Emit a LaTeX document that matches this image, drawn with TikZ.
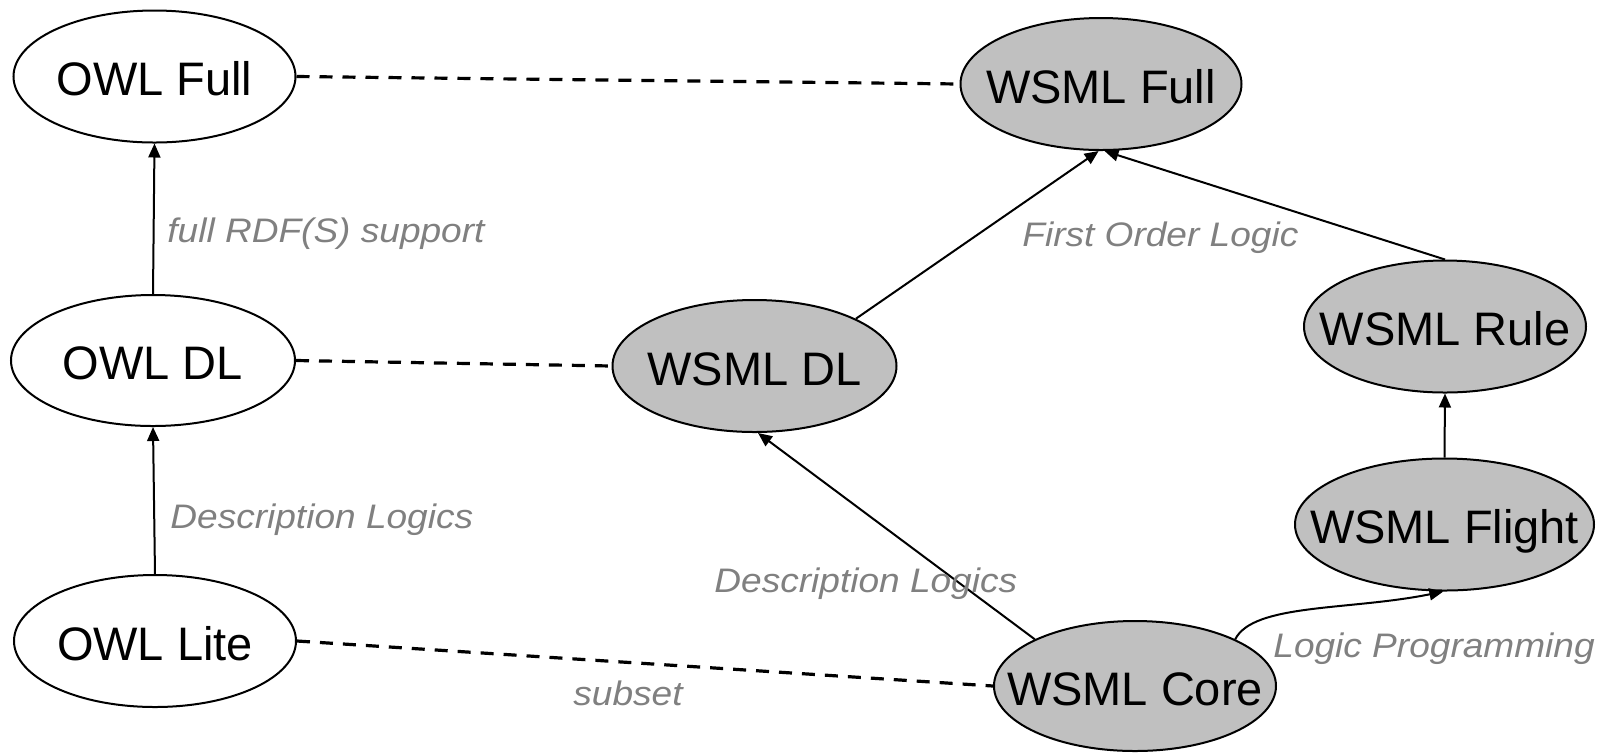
\documentclass[tikz,border=0pt]{standalone}
\usepackage{fontspec}
\setmainfont{Liberation Sans}
\newfontfamily\lblfont{Liberation Sans}[FakeStretch=1.09]
\usetikzlibrary{shapes.geometric, arrows.meta}
\definecolor{nodegray}{RGB}{192,192,192}
\definecolor{lblgray}{RGB}{128,128,128}

\begin{document}
\begin{tikzpicture}[x=0.5pt, y=-0.5pt,
  lang/.style={ellipse, draw=black, line width=1pt, inner sep=0pt,
    font=\fontsize{23.5}{28}\selectfont, text height=19pt, text depth=0pt},
  owl/.style={lang, fill=white},
  wsml/.style={lang, fill=nodegray},
  lbl/.style={font=\lblfont\itshape\fontsize{17}{20}\selectfont, text=lblgray,
    inner sep=0pt, anchor=base west},
  rel/.style={-{Triangle[length=7pt,width=6pt]}, line width=1pt},
  same/.style={dash pattern=on 6.5pt off 5pt, line width=1.6pt}
]
% canvas
\fill[white] (0,0) rectangle (1603,752);
\useasboundingbox (0,0) rectangle (1603,752);

% OWL species
\node[owl, minimum width=141pt, minimum height=66pt] (owlfull) at (154.5,76.5) {\makebox[0pt]{OWL Full}};
\node[owl, minimum width=142pt, minimum height=65.5pt] (owldl) at (153,360.5) {\makebox[0pt]{OWL DL}};
\node[owl, minimum width=141pt, minimum height=66pt] (owllite) at (155,641) {\makebox[0pt]{OWL Lite}};

% WSML variants
\node[wsml, minimum width=140.5pt, minimum height=66pt] (wsmlfull) at (1101,84) {\makebox[0pt]{WSML Full}};
\node[wsml, minimum width=142pt, minimum height=66pt] (wsmldl) at (754.5,366) {\makebox[0pt]{WSML DL}};
\node[wsml, minimum width=141pt, minimum height=66pt] (wsmlrule) at (1445,326.5) {\makebox[0pt]{WSML Rule}};
\node[wsml, minimum width=149.5pt, minimum height=66pt] (wsmlflight) at (1444.5,524.5) {\makebox[0pt]{WSML Flight}};
\node[wsml, minimum width=141pt, minimum height=65pt] (wsmlcore) at (1135,686) {\makebox[0pt]{WSML Core}};

% correspondences
\draw[same] (owlfull.east) -- (wsmlfull.west);
\draw[same] (owldl.east) -- (wsmldl.west);
\draw[same] (owllite.east) -- (wsmlcore.west);

% extensions
\draw[rel] (owldl.north) -- (owlfull.south);
\draw[rel] (owllite.north) -- (owldl.south);
\draw[rel] (wsmldl.25) -- (wsmlfull.-92);
\draw[rel] (wsmlrule.north) -- (wsmlfull.-87);
\draw[rel] (wsmlflight.north) -- (wsmlrule.south);
\draw[rel] (wsmlcore.155) -- (wsmldl.-87);
\draw[rel] (wsmlcore.25) .. controls +(18,-36) and +(-93,19) .. (wsmlflight.-91);

% labels
\node[lbl] (lrdfs) at (167,242) {full RDF(S) support};
\node[lbl] (lfol) at (1022,246.5) {First Order Logic};
\node[lbl] (ldlowl) at (170,528) {Description Logics};
\node[lbl] (ldlwsml) at (714,592) {Description Logics};
\node[lbl] (llp) at (1273,657) {Logic Programming};
\node[lbl] (lsub) at (573,705) {subset};
\end{tikzpicture}
\end{document}
